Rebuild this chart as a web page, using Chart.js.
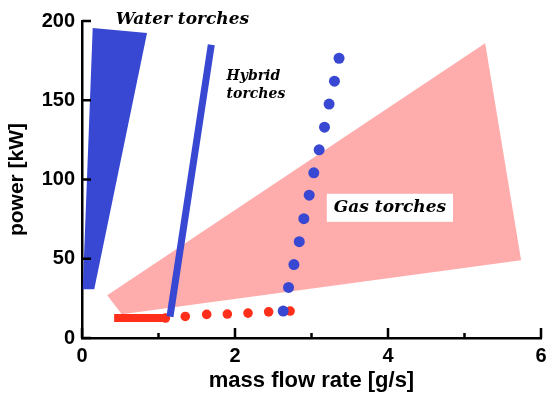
<!DOCTYPE html>
<html>
<head>
<meta charset="utf-8">
<script src="https://cdn.jsdelivr.net/npm/chart.js@4/dist/chart.umd.min.js"></script>
<style>
  html, body { margin: 0; padding: 0; background: #fff; }
  #wrap { width: 547px; height: 397px; }
</style>
</head>
<body>
<div id="wrap"><canvas id="chart" width="547" height="397"></canvas></div>
<script>
// --- data ---
const waterX = [0.14, 0.85, 0.16, 0.01];
const waterY = [195.6, 192.5, 30.8, 30.8];

const gasX = [0.33, 0.52, 5.74, 5.27];
const gasY = [27, 15, 49, 186];

const hybridX = [1.15, 1.69];
const hybridY = [13.5, 185];

const redLineX = [0.42, 1.08];
const redLineY = [12.6, 12.6];

const redDotX = [1.09, 1.35, 1.63, 1.90, 2.17, 2.44, 2.72];
const redDotY = [12.6, 13.6, 14.9, 15.1, 15.7, 16.5, 17];

const blueDotX = [2.63, 2.70, 2.77, 2.84, 2.90, 2.97, 3.03, 3.10, 3.17, 3.23, 3.30, 3.36];
const blueDotY = [17, 31.9, 46.3, 60.8, 75.3, 90.1, 104.2, 118.7, 133, 147.6, 162, 176.5];

const xMajor = [0, 2, 4, 6];
const xMinor = [1, 3, 5];
const yMajor = [0, 50, 100, 150, 200];

const BLUE = '#3848d2';
const RED = '#ff2f1c';
const PINK = '#ffacac';

function pts(xs, ys) {
    return xs.map((x, i) => ({ x: x, y: ys[i] }));
}
function closed(xs, ys) {
    const p = pts(xs, ys);
    p.push(p[0]);
    return p;
}

// inward tick marks
const tickMarks = {
    id: 'tickMarks',
    afterDatasetsDraw(chart) {
        const { ctx, scales: { x, y }, chartArea } = chart;
        ctx.save();
        ctx.strokeStyle = '#000';
        ctx.lineWidth = 2.5;
        ctx.beginPath();
        xMajor.forEach(v => {
            const px = x.getPixelForValue(v);
            ctx.moveTo(px, chartArea.bottom);
            ctx.lineTo(px, chartArea.bottom - 10);
        });
        xMinor.forEach(v => {
            const px = x.getPixelForValue(v);
            ctx.moveTo(px, chartArea.bottom);
            ctx.lineTo(px, chartArea.bottom - 5);
        });
        yMajor.forEach(v => {
            const py = y.getPixelForValue(v);
            ctx.moveTo(chartArea.left, py);
            ctx.lineTo(chartArea.left + 9, py);
        });
        ctx.stroke();
        ctx.restore();
    }
};

// text labels on the plot
const labels = {
    id: 'labels',
    afterDatasetsDraw(chart) {
        const { ctx, scales: { x, y } } = chart;
        ctx.save();
        ctx.fillStyle = '#000';
        ctx.textBaseline = 'middle';
        ctx.textAlign = 'left';
        ctx.font = 'italic bold 17px "DejaVu Serif"';
        ctx.fillText('Water torches', x.getPixelForValue(0.44), y.getPixelForValue(200.6));
        ctx.font = 'italic bold 14px "DejaVu Serif"';
        ctx.fillText('Hybrid', x.getPixelForValue(1.89), y.getPixelForValue(165));
        ctx.fillText('torches', x.getPixelForValue(1.89), y.getPixelForValue(153.6));

        const bx0 = x.getPixelForValue(3.2), bx1 = x.getPixelForValue(4.85);
        const by0 = y.getPixelForValue(91), by1 = y.getPixelForValue(73.3);
        ctx.fillStyle = '#fff';
        ctx.fillRect(bx0, by0, bx1 - bx0, by1 - by0);
        ctx.fillStyle = '#000';
        ctx.textAlign = 'center';
        ctx.font = 'italic bold 17px "DejaVu Serif"';
        ctx.fillText('Gas torches', (bx0 + bx1) / 2, (by0 + by1) / 2);
        ctx.restore();
    }
};

new Chart(document.getElementById('chart'), {
    type: 'scatter',
    data: {
        datasets: [
            { data: closed(gasX, gasY), showLine: true, fill: 'shape', backgroundColor: PINK,
              borderColor: PINK, borderWidth: 0, pointRadius: 0, order: 6 },
            { data: closed(waterX, waterY), showLine: true, fill: 'shape', backgroundColor: BLUE,
              borderColor: BLUE, borderWidth: 0, pointRadius: 0, order: 5 },
            { data: pts(redLineX, redLineY), showLine: true, borderColor: RED, borderWidth: 8,
              borderCapStyle: 'butt', pointRadius: 0, order: 4 },
            { data: pts(redDotX, redDotY), pointRadius: 4.8, backgroundColor: RED,
              borderWidth: 0, order: 3 },
            { data: pts(hybridX, hybridY), showLine: true, borderColor: BLUE, borderWidth: 7,
              borderCapStyle: 'butt', pointRadius: 0, order: 2 },
            { data: pts(blueDotX, blueDotY), pointRadius: 5.5, backgroundColor: BLUE,
              borderWidth: 0, order: 1 }
        ]
    },
    options: {
        responsive: false,
        animation: false,
        layout: { padding: { top: 21, right: 6, left: 0, bottom: 0 } },
        plugins: { legend: { display: false }, tooltip: { enabled: false } },
        scales: {
            x: {
                type: 'linear', min: 0, max: 6,
                grid: { display: false, drawTicks: false },
                border: { display: true, color: '#000', width: 2.5 },
                ticks: { stepSize: 2, color: '#000', padding: 6,
                         font: { family: 'Liberation Sans', size: 20, weight: 'bold' } },
                title: { display: true, text: 'mass flow rate [g/s]', color: '#000', padding: { top: 0, bottom: 3 },
                         font: { family: 'Liberation Sans', size: 22, weight: 'bold' } },
                afterFit(s) { s.height = 59; s.paddingLeft = 0; s.paddingRight = 0; }
            },
            y: {
                type: 'linear', min: 0, max: 200,
                grid: { display: false, drawTicks: false },
                border: { display: true, color: '#000', width: 2.5 },
                ticks: { stepSize: 50, color: '#000', padding: 7,
                         font: { family: 'Liberation Sans', size: 20, weight: 'bold' } },
                title: { display: true, text: 'power [kW]', color: '#000', padding: { top: 5, bottom: 0 },
                         font: { family: 'Liberation Sans', size: 21, weight: 'bold' } },
                afterFit(s) { s.width = 82; s.paddingTop = 0; s.paddingBottom = 0; }
            }
        }
    },
    plugins: [tickMarks, labels]
});
</script>
</body>
</html>
